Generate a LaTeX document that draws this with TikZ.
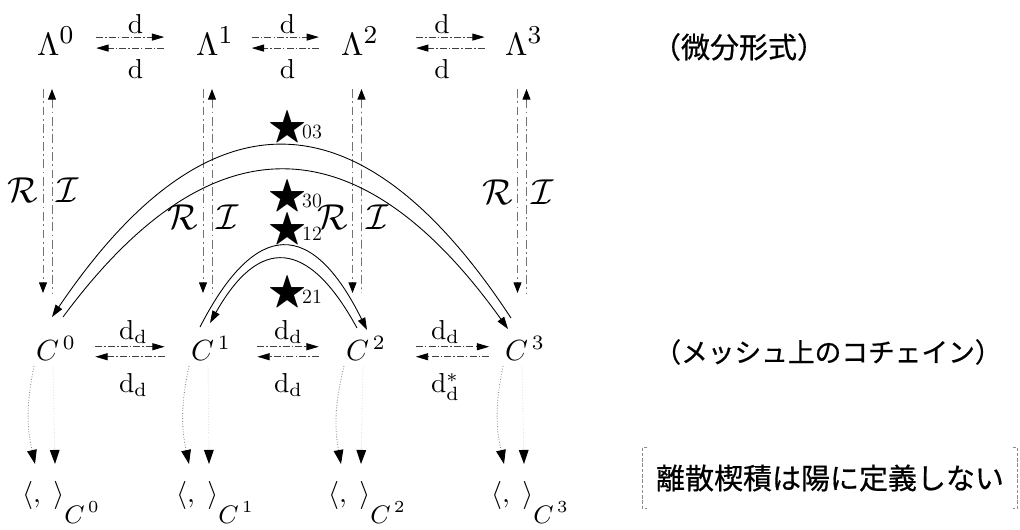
\RequirePackage{fix-cm}
\documentclass[tikz,border=0pt]{standalone}
\usepackage{amsmath,amssymb}
\usepackage{fontspec}
\newfontfamily\jpfont{Noto Sans CJK JP}[FakeBold=0.6]
\usetikzlibrary{arrows.meta}
\tikzset{
    form/.style={scale=1.83, inner sep=1pt, anchor=base},
    cochain/.style={scale=1.66, inner sep=1pt, anchor=base},
    pairing/.style={scale=1.6, inner sep=1pt, anchor=base},
    lbl/.style={scale=1.56, text=black, inner sep=1pt},
    maplbl/.style={scale=2.05, text=black, inner sep=1pt},
    hodge/.style={inner sep=0pt, anchor=base west},
    jtext/.style={font=\jpfont\fontsize{16.5}{20}\selectfont, inner sep=0pt},
    dmap/.style={black!75, line width=0.5pt,
        dash pattern=on 4pt off 1.2pt on 0.8pt off 1.2pt,
        -{Triangle[length=7pt,width=4pt,color=black]}},
    rmap/.style={black!55, line width=0.5pt,
        dash pattern=on 5pt off 2pt on 1pt off 2pt,
        -{Triangle[length=6pt,width=4.5pt,color=black]}},
    imap/.style={rmap, {Triangle[length=6pt,width=4.5pt,color=black]}-},
    hodgemap/.style={black, line width=0.5pt,
        -{Triangle[length=7pt,width=4.5pt]}},
    pairmap/.style={black!45, densely dotted, line width=0.5pt,
        -{Triangle[length=8pt,width=5.5pt,color=black]}},
    bracket/.style={black!45, line width=0.4pt, dash pattern=on 2pt off 1pt}
}
\newcommand{\hstar}[1]{{\fontsize{23}{26}\selectfont$\bigstar$}\kern-2.5pt{\fontsize{11.5}{13}\selectfont#1}}
\newcommand{\formdeg}[1]{\Lambda^{\mbox{\footnotesize#1}}}
\newcommand{\pairdeg}[1]{\langle,\;\rangle\raisebox{-7.5pt}{\small$C^{\,#1}$}}

\begin{document}
\begin{tikzpicture}[x=0.02cm, y=-0.02cm]
\useasboundingbox (0,0) rectangle (1020,529);

% Forme differenziali
\node[form] (L0) at (56,55) {$\formdeg{0}$};
\node[form] (L1) at (215,55) {$\formdeg{1}$};
\node[form] (L2) at (360,55) {$\formdeg{2}$};
\node[form] (L3) at (524,55) {$\formdeg{3}$};

% Cocatene
\node[cochain] (C0) at (56,360) {$C^{\,0}$};
\node[cochain] (C1) at (211,360) {$C^{\,1}$};
\node[cochain] (C2) at (366,360) {$C^{\,2}$};
\node[cochain] (C3) at (525,360) {$C^{\,3}$};

% Prodotti scalari
\node[pairing] (P0) at (61,502) {$\pairdeg{0}$};
\node[pairing] (P1) at (215,502) {$\pairdeg{1}$};
\node[pairing] (P2) at (367,502) {$\pairdeg{2}$};
\node[pairing] (P3) at (530,502) {$\pairdeg{3}$};

% d tra le forme
\foreach \a/\b/\s/\t in {L0/L1/10pt/16pt, L1/L2/8pt/10.5pt, L2/L3/19pt/9.5pt}{
    \draw[dmap, shorten <=\s, shorten >=\t]
        ([shift={(0,-11)}]\a.mid east) -- node[lbl,above] {$\mathrm{d}$}
        ([shift={(0,-11)}]\b.mid west);
    \draw[dmap, shorten <=\t, shorten >=\s]
        (\b.mid west) -- node[lbl,below=3pt] {$\mathrm{d}$} (\a.mid east);
}

% d_d tra le cocatene
\foreach \a/\b/\s/\t/\m in {C0/C1/9pt/13pt/{\mathrm{d}_\mathrm{d}},
        C1/C2/13pt/13.5pt/{\mathrm{d}_\mathrm{d}},
        C2/C3/15pt/7pt/{\mathrm{d}_\mathrm{d}^{*}}}{
    \draw[dmap, shorten <=\s, shorten >=\t]
        ([shift={(0,-7)}]\a.mid east) -- node[lbl,above] {$\mathrm{d}_\mathrm{d}$}
        ([shift={(0,-7)}]\b.mid west);
    \draw[dmap, shorten <=\t, shorten >=\s]
        ([shift={(0,3)}]\b.mid west) -- node[lbl,below=5pt] {$\m$}
        ([shift={(0,3)}]\a.mid east);
}

% R e I
\foreach \k/\a/\b/\p in {0/-13/-13/0.495, 1/-12/-8/0.63, 2/-7.5/-13.5/0.63, 3/-6.5/-7.5/0.505}{
    \draw[rmap] ([shift={(\a,34)}]L\k.base) -- node[maplbl,left,pos=\p] {$\mathcal{R}$}
        ([shift={(\b,-67)}]C\k.base);
    \draw[imap] ([shift={(\a+9,34)}]L\k.base) -- node[maplbl,right,pos=\p] {$\mathcal{I}$}
        ([shift={(\b+9,-67)}]C\k.base);
}

% Stelle di Hodge
\node[hodge] (S03) at (268,138) {\hstar{03}};
\node[hodge] (S30) at (268,207) {\hstar{30}};
\node[hodge] (S12) at (268,240) {\hstar{12}};
\node[hodge] (S21) at (268,303) {\hstar{21}};

\draw[hodgemap] ([shift={(-14,-42)}]C3.base)
    .. controls +(-151,-230) and +(155,-229) .. ([shift={(-4,-43)}]C0.base);
\draw[hodgemap] ([shift={(7,-43)}]C0.base)
    .. controls +(148,-200) and +(-149,-208) .. ([shift={(-17,-31)}]C3.base);
\draw[hodgemap] ([shift={(-11,-33)}]C1.base)
    .. controls +(56,-109) and +(-55,-111) .. ([shift={(1,-30)}]C2.base);
\draw[hodgemap] ([shift={(-9,-32)}]C2.base)
    .. controls +(-49,-90) and +(49,-87) .. ([shift={(-1,-37)}]C1.base);

% Frecce verso i prodotti scalari
\foreach \k in {0,...,3}{
    \draw[pairmap] ([shift={(-22,6)}]C\k.base) to[bend right=12]
        ([shift={(-26,-38)}]P\k.base);
    \draw[pairmap, draw=black!12] ([shift={(-3,6)}]C\k.base) --
        ([shift={(-6,-38)}]P\k.base);
}

% Testi a destra
\node[jtext] (forms) at (739,47) {（微分形式）};
\node[jtext, font=\jpfont\fontsize{15.2}{18}\selectfont] (chains) at (828,352)
    {（メッシュ上のコチェイン）};
\node[jtext, inner xsep=7.7pt, minimum height=1.2cm] (nowedge) at (830,478)
    {離散楔積は陽に定義しない};
\draw[bracket] ([xshift=3pt]nowedge.north west) -- (nowedge.north west)
    -- (nowedge.south west) -- ([xshift=3pt]nowedge.south west);
\draw[bracket] ([xshift=-3pt]nowedge.north east) -- (nowedge.north east)
    -- (nowedge.south east) -- ([xshift=-3pt]nowedge.south east);

\end{tikzpicture}
\end{document}
